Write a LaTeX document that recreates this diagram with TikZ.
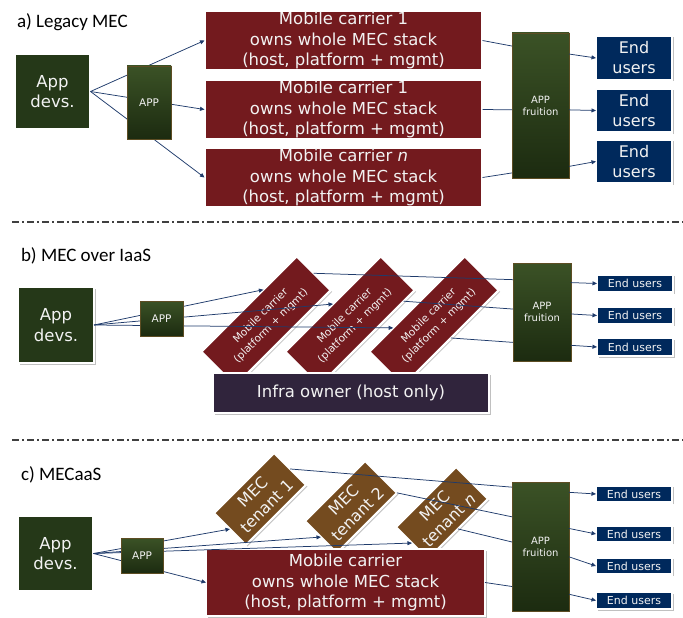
\documentclass[tikz,border=0pt]{standalone}
\usepackage{fontspec}
\setmainfont{DejaVu Sans}
\newfontfamily\titlefont{Carlito}
\usetikzlibrary{arrows.meta,calc,shadows}
\definecolor{MECGreen}{HTML}{253818}
\definecolor{MECGreenTop}{HTML}{3B5226}
\definecolor{MECGreenBot}{HTML}{1C2B10}
\definecolor{MECRed}{HTML}{731A1E}
\definecolor{MECNavy}{HTML}{00295C}
\definecolor{MECPurple}{HTML}{30243C}
\definecolor{MECBrown}{HTML}{744B1F}
\definecolor{MECLine}{HTML}{1F3B6B}
\definecolor{MECText}{HTML}{F2F2F2}

\begin{document}
\begin{tikzpicture}[x=1pt,y=-1pt,line width=.75pt,>={Triangle[length=4.5pt,width=4pt]},
 every node/.style={inner sep=0pt,outer sep=0pt,text=MECText},
 whitebox/.style={draw=white,line width=2.2pt,align=center,
  drop shadow={shadow xshift=1.5pt,shadow yshift=-1.5pt,opacity=.45,fill=black!55}},
 devsbox/.style={whitebox,fill=MECGreen,minimum width=76pt,minimum height=76pt,
  font=\fontsize{16.5}{20.5}\selectfont},
 carbox/.style={whitebox,fill=MECRed,minimum width=278pt,minimum height=60pt,
  font=\fontsize{16.5}{20.5}\selectfont},
 userbox/.style={whitebox,fill=MECNavy,minimum width=76pt},
 appbox/.style={draw=MECGreenBot!60!brown,line width=.6pt,top color=MECGreenTop,
  bottom color=MECGreenBot,align=center,font=\fontsize{10.5}{12.5}\selectfont,
  drop shadow={shadow xshift=1pt,shadow yshift=-1pt,opacity=.3,fill=black!60}},
 tiltbox/.style={whitebox,rotate=45},
 titletext/.style={anchor=west,text=black,font=\titlefont\fontsize{19}{22}\selectfont},
 sepline/.style={draw=black!75,line width=1.1pt,dash pattern=on 7pt off 3pt on 2pt off 3pt},
 link/.style={draw=MECLine}]
\useasboundingbox (0,0) rectangle (683,618);
% a) Legacy MEC
\node[titletext] (ttlA) at (17,22) {a) Legacy MEC};
\node[devsbox] (devA) at (52.5,91.5) {App\\devs.};
\node[carbox] (carA1) at (343.5,40.5) {Mobile carrier 1\\owns whole MEC stack\\(host, platform + mgmt)};
\node[carbox] (carA2) at (343.5,109.5) {Mobile carrier 1\\owns whole MEC stack\\(host, platform + mgmt)};
\node[carbox] (carA3) at (343.5,177.5) {Mobile carrier \textit{n}\\owns whole MEC stack\\(host, platform + mgmt)};
\node[appbox,minimum width=57pt,minimum height=145pt,font=\fontsize{10}{12}\selectfont] (frA) at (540.5,105.5) {APP\\fruition};
\foreach \i/\y in {1/58,2/110.5,3/161.5}
 \node[userbox,minimum height=44pt,font=\fontsize{16}{20}\selectfont] (usrA\i) at (634,\y) {End\\users};
\foreach \i in {1,2,3}
 \draw[link,->] (devA.east) -- (carA\i.west);
\foreach \i/\f/\g in {1/.09/.145,2/.53/.53,3/.965/.92}{
 \draw[link] (carA\i.east) -- ($(frA.north west)!\f!(frA.south west)$);
 \draw[link,->] ($(frA.north east)!\g!(frA.south east)$) -- (usrA\i.west);
}
\node[appbox,minimum width=44pt,minimum height=73pt] (appA) at (149,102.5) {APP};
\draw[sepline] (12,222) -- (683,222);
% b) MEC over IaaS
\node[titletext] (ttlB) at (21,256) {b) MEC over IaaS};
\node[devsbox] (devB) at (56,325) {App\\devs.};
\foreach \i/\x in {1/266,2/350,3/434}
 \node[tiltbox,fill=MECRed,minimum width=135pt,minimum height=48pt,
  font=\fontsize{10.5}{14.5}\selectfont] (carB\i) at (\x,321) {Mobile carrier\\(platform + mgmt)};
\node[whitebox,fill=MECPurple,minimum width=276pt,minimum height=40pt,
 font=\fontsize{16.5}{20}\selectfont] (infB) at (351,393) {Infra owner (host only)};
\node[appbox,minimum width=58pt,minimum height=98pt,font=\fontsize{10}{12}\selectfont] (frB) at (542,312) {APP\\fruition};
\foreach \i/\y in {1/283.5,2/315.5,3/347}
 \node[userbox,minimum height=18pt,font=\fontsize{11}{13}\selectfont] (usrB\i) at (635,\y) {End users};
\draw[link,->] (devB.east) -- ($(carB1.north)!.3!(carB1.north east)$);
\draw[link,->] (devB.east) -- (carB2.north);
\draw[link,->] (devB.east) -- ($(carB3.north)!.5!(carB3.north west)$);
\draw[link] (carB1.east) -- ($(frB.north west)!.17!(frB.south west)$);
\draw[link] ($(carB2.south)!.77!(carB2.south east)$) -- ($(frB.north west)!.47!(frB.south west)$);
\draw[link] (carB3.south) -- ($(frB.north west)!.81!(frB.south west)$);
\foreach \i/\g in {1/.2,2/.52,3/.84}
 \draw[link,->] ($(frB.north east)!\g!(frB.south east)$) -- (usrB\i.west);
\node[appbox,minimum width=43pt,minimum height=35pt] (appB) at (161.5,318.5) {APP};
\draw[sepline] (12,440) -- (683,440);
% c) MECaaS
\node[titletext] (ttlC) at (21,475) {c) MECaaS};
\node[devsbox] (devC) at (55.5,553.5) {App\\devs.};
\node[tiltbox,fill=MECBrown,minimum width=85pt,minimum height=45pt,
 font=\fontsize{16}{20}\selectfont] (tenC1) at (260,499) {MEC\\tenant 1};
\node[tiltbox,fill=MECBrown,minimum width=85pt,minimum height=45pt,
 font=\fontsize{16}{20}\selectfont] (tenC2) at (351,507) {MEC\\tenant 2};
\node[tiltbox,fill=MECBrown,minimum width=85pt,minimum height=45pt,
 font=\fontsize{16}{20}\selectfont] (tenC3) at (442,513) {MEC\\tenant \textit{n}};
\node[carbox,minimum width=279pt,minimum height=67pt] (carC) at (345.5,582.5) {Mobile carrier\\owns whole MEC stack\\(host, platform + mgmt)};
\node[appbox,minimum width=57pt,minimum height=129pt,font=\fontsize{10}{12}\selectfont] (frC) at (540.5,546.5) {APP\\fruition};
\foreach \i/\y in {1/494,2/534,3/566,4/600.5}
 \node[userbox,minimum height=17pt,font=\fontsize{11}{13}\selectfont] (usrC\i) at (634,\y) {End users};
\foreach \n in {tenC1,tenC2,tenC3,carC}
 \draw[link,->] (devC.east) -- (\n.west);
\draw[link] (tenC1.east) -- ($(frC.north west)!.04!(frC.south west)$);
\draw[link] (tenC2.south east) -- ($(frC.north west)!.27!(frC.south west)$);
\draw[link] (tenC3.south) -- ($(frC.north west)!.465!(frC.south west)$);
\draw[link] (carC.east) -- ($(frC.north west)!.81!(frC.south west)$);
\foreach \i/\g in {1/.08,2/.36,3/.58,4/.87}
 \draw[link,->] ($(frC.north east)!\g!(frC.south east)$) -- (usrC\i.west);
\node[appbox,minimum width=42pt,minimum height=35pt] (appC) at (142,555.5) {APP};
\end{tikzpicture}
\end{document}
